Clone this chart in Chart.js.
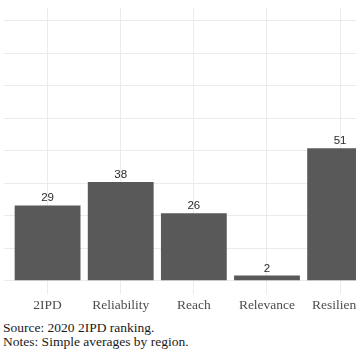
<!DOCTYPE html>
<html>
<head>
<meta charset="utf-8">
<script src="https://cdn.jsdelivr.net/npm/chart.js@4"></script>
<style>
html,body{margin:0;padding:0;background:#fff;overflow:hidden;width:356px;height:364px;}
#wrap{position:relative;width:356px;height:364px;overflow:hidden;}
canvas{position:absolute;left:0;top:0;}
.note{position:absolute;left:3px;font-family:"Liberation Serif","Times New Roman",serif;font-size:13.5px;color:#1a1a1a;white-space:nowrap;line-height:16px;}
</style>
</head>
<body>
<div id="wrap">
<canvas id="c" width="384" height="318"></canvas>
<div class="note" style="top:320px">Source: 2020 2IPD ranking.</div>
<div class="note" style="top:334px">Notes: Simple averages by region.</div>
</div>
<script>
const categories = ["2IPD", "Reliability", "Reach", "Relevance", "Resilience"];
const values = [29, 38, 26, 2, 51];
const yGridValues = [0, 12.5, 25, 37.5, 50, 62.5, 75, 87.5, 100];

const labelPlugin = {
  id: 'valueLabels',
  afterDatasetsDraw(chart) {
    const ctx = chart.ctx;
    const meta = chart.getDatasetMeta(0);
    ctx.save();
    ctx.font = '11.5px "Liberation Sans", Arial, sans-serif';
    ctx.fillStyle = '#2a2a2a';
    ctx.textAlign = 'center';
    ctx.textBaseline = 'bottom';
    meta.data.forEach((bar, i) => {
      ctx.fillText(String(values[i]), bar.x, bar.y - 1.5);
    });
    ctx.restore();
  }
};

new Chart(document.getElementById('c'), {
  type: 'bar',
  data: {
    datasets: [{
      data: values.map((v, i) => ({x: i, y: v})),
      backgroundColor: '#595959',
      borderWidth: 0,
      categoryPercentage: 1,
      barPercentage: 0.9
    }]
  },
  options: {
    responsive: false,
    devicePixelRatio: 1,
    animation: false,
    layout: {padding: {left: 3.7, top: 8, right: 0, bottom: 0}},
    plugins: {legend: {display: false}, tooltip: {enabled: false}},
    scales: {
      x: {
        type: 'linear',
        offset: false,
        min: -0.6,
        max: categories.length - 0.4,
        afterBuildTicks: (axis) => { axis.ticks = categories.map((c, i) => ({value: i})); },
        ticks: {
          autoSkip: false,
          maxRotation: 0,
          padding: 4,
          color: '#4d4d4d',
          font: {family: '"Liberation Serif", "Times New Roman", serif', size: 13.5},
          callback: (v) => categories[v] !== undefined ? categories[v] : ''
        },
        grid: {color: '#ebebeb', lineWidth: 1, drawTicks: false, offset: false},
        border: {display: false}
      },
      y: {
        min: -5,
        max: 105,
        afterBuildTicks: (axis) => { axis.ticks = yGridValues.map(v => ({value: v})); },
        ticks: {display: false},
        grid: {color: '#ebebeb', lineWidth: 1, drawTicks: false},
        border: {display: false}
      }
    }
  },
  plugins: [labelPlugin]
});
</script>
</body>
</html>
